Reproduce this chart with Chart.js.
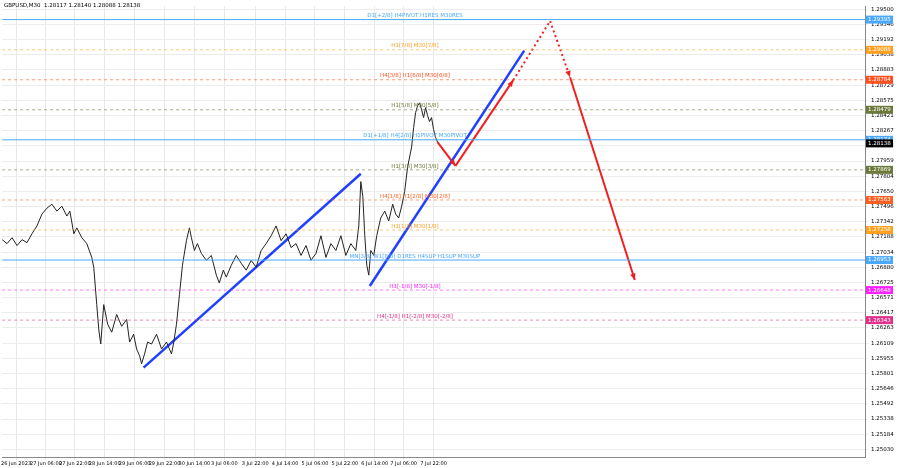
<!DOCTYPE html><html><head><meta charset="utf-8">
<script src="https://cdn.jsdelivr.net/npm/chart.js@4"></script>
<style>html,body{margin:0;background:#fff}#w{width:900px;height:468px}</style></head><body><div id="w"><canvas id="c"></canvas></div>
<script>
const timeLabels=["26 Jun 2023","27 Jun 06:00","27 Jun 22:00","28 Jun 14:00","29 Jun 06:00","29 Jun 22:00","30 Jun 14:00","3 Jul 06:00","3 Jul 22:00","4 Jul 14:00","5 Jul 06:00","5 Jul 22:00","6 Jul 14:00","7 Jul 06:00","7 Jul 22:00"];
const timePos=[14,44,73,103,133,163,193,223,254,284,314,344,374,403,433];
const priceX=[0,5,10,15,20,25,30,35,40,45,50,55,60,65,68,72,75,80,85,90,92,95,97,99,102,106,110,115,120,125,128,132,135,138,140,143,146,150,155,160,165,170,172,175,178,181,185,188,190,193,196,200,205,210,215,218,222,225,230,235,240,245,250,255,260,265,270,275,280,285,290,295,300,305,310,315,320,325,330,335,340,345,350,355,358,360,362,364,366,368,370,373,376,380,384,388,392,395,398,401,404,407,409,411,413,415,417,419,421,423,425,427,429,431,433,435,437];
const priceY=[1.2716,1.2712,1.2718,1.2710,1.2716,1.2713,1.2722,1.2730,1.2742,1.2748,1.2752,1.2745,1.2750,1.2740,1.2745,1.2722,1.2728,1.2718,1.2712,1.2698,1.2688,1.2650,1.2625,1.2610,1.2650,1.2630,1.2622,1.2640,1.2628,1.2635,1.2612,1.2620,1.2605,1.2598,1.2590,1.2600,1.2612,1.2610,1.2620,1.2605,1.2612,1.2600,1.2610,1.2630,1.2660,1.2690,1.2715,1.2728,1.2718,1.2705,1.2712,1.2702,1.2695,1.2700,1.2680,1.2672,1.2685,1.2678,1.2690,1.2700,1.2692,1.2685,1.2695,1.2688,1.2705,1.2712,1.2720,1.2730,1.2715,1.2722,1.2708,1.2712,1.2700,1.2710,1.2695,1.2702,1.2720,1.2698,1.2712,1.2705,1.2720,1.2700,1.2712,1.2705,1.2730,1.2775,1.2760,1.2720,1.2690,1.2680,1.2705,1.2700,1.2720,1.2738,1.2745,1.2735,1.2752,1.2742,1.2738,1.2750,1.2765,1.2790,1.2800,1.2810,1.2830,1.2845,1.2852,1.2855,1.2848,1.2840,1.2850,1.2842,1.2836,1.2840,1.2828,1.2820,1.2815];
const levelPrices=[1.29395,1.29088,1.28784,1.28479,1.28174,1.27869,1.27563,1.27258,1.26953,1.26648,1.26343];
const levelNames=["D1[+2/8] H4PIVOT H1RES M30RES","H1[7/8] M30[7/8]","H4[3/8] H1[6/8] M30[6/8]","H1[5/8] M30[5/8]","D1[+1/8] H4[2/8] H1PIVOT M30PIVOT","H1[3/8] M30[3/8]","H4[1/8] H1[2/8] M30[2/8]","H1[1/8] M30[1/8]","MN[3/8] W1[8/8] D1RES H4SUP H1SUP M30SUP","H1[-1/8] M30[-1/8]","H4[-1/8] H1[-2/8] M30[-2/8]"];
const levelColors=["#4aa8ff","#ffa020","#ff5020","#6b7a3a","#4aa8ff","#6b7a3a","#ff6020","#ffa020","#4aa8ff","#ff20ff","#e0308a"];
const levelSolid=[true,false,false,false,true,false,false,false,true,false,false];
const blue1X=[142,360],blue1Y=[1.2586,1.2783];
const blue2X=[369,524],blue2Y=[1.2669,1.2908];
const redX=[437,455,513,550,570,635],redY=[1.2815,1.2791,1.2878,1.2938,1.2881,1.2675];
const curPrice=1.28138;
const yFirst=1.29500,yStep=0.0015414;

const pts=(xs,ys)=>xs.map((x,i)=>({x,y:ys[i]}));
const ds=[];
levelPrices.forEach((p,i)=>ds.push({data:[{x:0,y:p},{x:870,y:p}],borderColor:levelColors[i]+(levelSolid[i]?"":"99"),borderWidth:1,borderDash:levelSolid[i]?[]:[3,3],pointRadius:0}));
ds.push({data:pts(priceX,priceY),borderColor:"#222",borderWidth:1,pointRadius:0,tension:0});
ds.push({data:pts(blue1X,blue1Y),borderColor:"#2040ff",borderWidth:2.5,pointRadius:0});
ds.push({data:pts(blue2X,blue2Y),borderColor:"#2040ff",borderWidth:2.5,pointRadius:0});
const segStyle=[[],[],[2,3],[2,3],[]];
for(let i=0;i<5;i++)ds.push({data:pts(redX.slice(i,i+2),redY.slice(i,i+2)),borderColor:"#f02020",borderWidth:2,borderDash:segStyle[i],pointRadius:0});

const overlay={id:"ov",afterDraw(ch){
 const c=ch.ctx,xs=ch.scales.x,ys=ch.scales.y;
 c.save();c.font="5.5px 'DejaVu Sans'";c.textAlign="center";c.textBaseline="bottom";
 levelPrices.forEach((p,i)=>{c.fillStyle=levelColors[i];c.fillText(levelNames[i],415,ys.getPixelForValue(p)-1);});
 c.fillStyle="#f02020";
 [0,1,3,4].forEach(i=>{const x1=xs.getPixelForValue(redX[i]),y1=ys.getPixelForValue(redY[i]),x2=xs.getPixelForValue(redX[i+1]),y2=ys.getPixelForValue(redY[i+1]);const a=Math.atan2(y2-y1,x2-x1);c.beginPath();c.moveTo(x2,y2);c.lineTo(x2-7*Math.cos(a-0.4),y2-7*Math.sin(a-0.4));c.lineTo(x2-7*Math.cos(a+0.4),y2-7*Math.sin(a+0.4));c.fill();});
 c.textAlign="left";c.textBaseline="middle";
 const boxes=levelPrices.map((p,i)=>[p,levelColors[i]]).concat([[curPrice,"#000"]]);
 boxes.forEach(([p,col])=>{const y=ys.getPixelForValue(p);c.fillStyle=col;c.fillRect(xs.right+1,y-4,27,8);c.fillStyle="#fff";c.fillText(p.toFixed(5),xs.right+3,y);});
 c.fillStyle="#000";c.textBaseline="top";c.fillText("GBPUSD,M30  1.28117 1.28140 1.28088 1.28138",4,3);
 c.restore();}};

new Chart(document.getElementById("c"),{type:"line",data:{datasets:ds},plugins:[overlay],
options:{responsive:true,maintainAspectRatio:false,animation:false,parsing:false,
 layout:{padding:{top:0,right:0,left:0,bottom:0}},
 plugins:{legend:{display:false},tooltip:{enabled:false}},
 scales:{
  x:{type:"linear",min:0,max:866,afterBuildTicks:a=>{a.ticks=timePos.map(v=>({value:v}));},
   ticks:{font:{size:5,family:"DejaVu Sans"},color:"#000",maxRotation:0,autoSkip:false,padding:1,callback:(v,i)=>timeLabels[i]},
   grid:{color:"#e8e8e8",tickLength:3},border:{color:"#888"}},
  y:{position:"right",min:yFirst-yStep*29.5,max:yFirst+0.0003,
   afterBuildTicks:a=>{const t=[];for(let i=0;i<=29;i++)t.push({value:yFirst-i*yStep});a.ticks=t;},
   ticks:{font:{size:5.5,family:"DejaVu Sans"},color:"#000",padding:3,callback:v=>v.toFixed(5)},
   grid:{color:"#ececec",tickLength:3},border:{color:"#888"},afterFit:a=>{a.width=35;}}
 }}});
</script></body></html>
